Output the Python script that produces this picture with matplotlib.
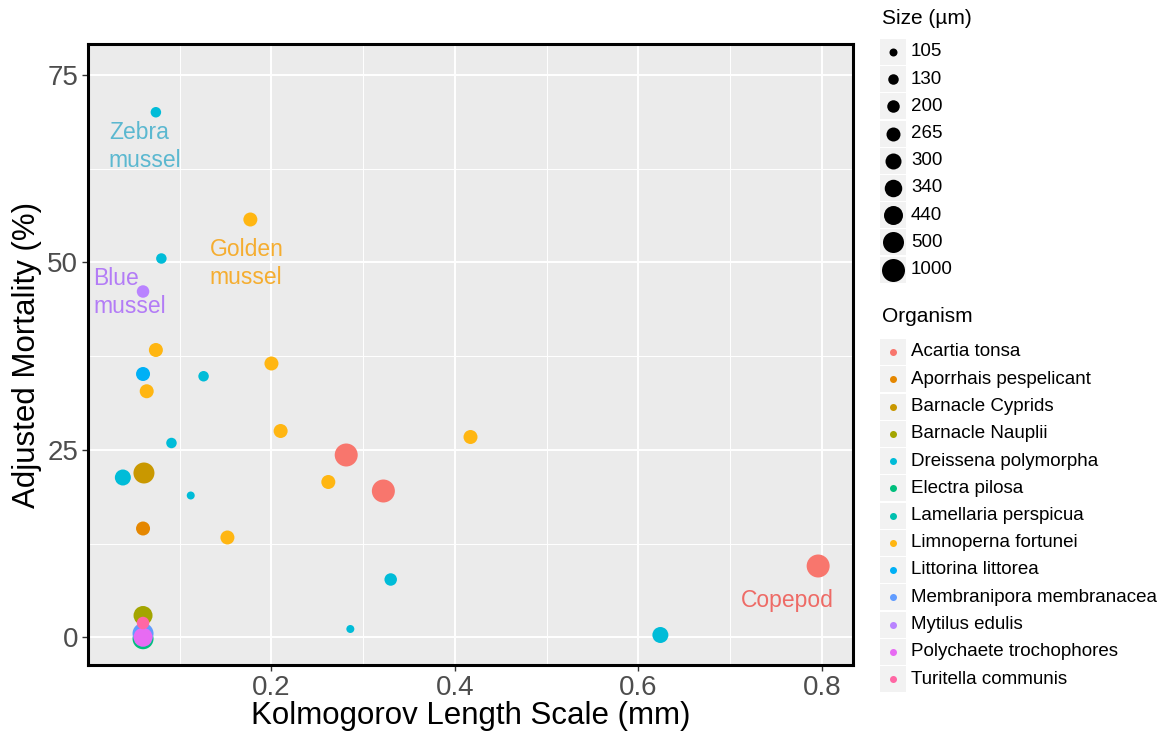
import matplotlib
matplotlib.use("Agg")
import matplotlib.pyplot as plt
from matplotlib.patches import Rectangle

plt.rcParams['font.family'] = ['Liberation Sans', 'DejaVu Sans']

# organism levels and their colours
organisms = ["Acartia tonsa", "Aporrhais pespelicant", "Barnacle Cyprids", "Barnacle Nauplii",
             "Dreissena polymorpha", "Electra pilosa", "Lamellaria perspicua", "Limnoperna fortunei",
             "Littorina littorea", "Membranipora membranacea", "Mytilus edulis",
             "Polychaete trochophores", "Turitella communis"]
org_colors = ["#F8766D", "#E58700", "#C99800", "#A3A500", "#00BCD8", "#00BF7D", "#00C0AF",
              "#FFB612", "#00B0F6", "#619CFF", "#B983FF", "#E76BF3", "#FF67A4"]

# size levels (um) and marker diameters in px
size_levels = [105, 130, 200, 265, 300, 340, 440, 500, 1000]
size_px = [8, 10.5, 12.5, 14, 16, 17.5, 19, 21, 23]

# observations
kol = [0.074, 0.080, 0.177, 0.060, 0.074, 0.060, 0.064, 0.126, 0.200, 0.210, 0.091, 0.417,
       0.2815, 0.322, 0.262, 0.038, 0.061, 0.112, 0.152, 0.060, 0.796, 0.330, 0.286, 0.624,
       0.060, 0.060, 0.060, 0.060, 0.060, 0.060]
mort = [70.0, 50.5, 55.7, 46.1, 38.3, 35.1, 32.8, 34.8, 36.5, 27.5, 25.9, 26.7,
        24.3, 19.5, 20.7, 21.3, 21.9, 18.9, 13.3, 14.5, 9.5, 7.7, 1.1, 0.3,
        2.9, -0.2, 0.0, 0.5, 0.0, 1.9]
org = ["Dreissena polymorpha", "Dreissena polymorpha", "Limnoperna fortunei", "Mytilus edulis",
       "Limnoperna fortunei", "Littorina littorea", "Limnoperna fortunei", "Dreissena polymorpha",
       "Limnoperna fortunei", "Limnoperna fortunei", "Dreissena polymorpha", "Limnoperna fortunei",
       "Acartia tonsa", "Acartia tonsa", "Limnoperna fortunei", "Dreissena polymorpha",
       "Barnacle Cyprids", "Dreissena polymorpha", "Limnoperna fortunei", "Aporrhais pespelicant",
       "Acartia tonsa", "Dreissena polymorpha", "Dreissena polymorpha", "Dreissena polymorpha",
       "Barnacle Nauplii", "Electra pilosa", "Lamellaria perspicua", "Membranipora membranacea",
       "Polychaete trochophores", "Turitella communis"]
size = [130, 130, 265, 200, 265, 265, 265, 130, 265, 265, 130, 265,
        1000, 1000, 265, 300, 500, 105, 265, 265, 1000, 200, 105, 300,
        440, 500, 440, 500, 440, 200]

# text labels on the panel
lab_text = ["Zebra\nmussel", "Golden\nmussel", "Blue\nmussel", "Copepod"]
lab_x = [0.0228, 0.1326, 0.0054, 0.762]
lab_y = [65.4, 49.8, 46.0, 4.9]
lab_ha = ["left", "left", "left", "center"]
lab_col = ["#5BB8D0", "#F5AD30", "#B37CF6", "#EE6B66"]

W, H = 1166, 731
fig = plt.figure(figsize=(W / 100, H / 100), dpi=100)
ax = fig.add_axes([88 / W, 1 - 665 / H, (853 - 88) / W, (665 - 44) / H])


def area(d):
    # diameter in px -> scatter area in pt^2
    return (d * 0.72) ** 2


ax.set_facecolor("#EBEBEB")
ax.scatter(kol, mort,
           s=[area(size_px[size_levels.index(v)]) for v in size],
           c=[org_colors[organisms.index(o)] for o in org],
           linewidths=0, zorder=3)

for t, x, y, ha, col in zip(lab_text, lab_x, lab_y, lab_ha, lab_col):
    ax.text(x, y, t, ha=ha, va="center", color=col, fontsize=16.5, linespacing=1.3, zorder=4)

ax.set_xlim(0.0, 0.834)
ax.set_ylim(-3.7, 79.1)
ax.set_xticks([0.2, 0.4, 0.6, 0.8])
ax.set_xticklabels(["0.2", "0.4", "0.6", "0.8"])
ax.set_yticks([0, 25, 50, 75])
ax.set_xticks([0.1, 0.3, 0.5, 0.7], minor=True)
ax.set_yticks([12.5, 37.5, 62.5], minor=True)
ax.grid(True, which="major", color="white", linewidth=1.4, zorder=0)
ax.grid(True, which="minor", color="white", linewidth=0.7, zorder=0)
ax.set_axisbelow(True)
ax.tick_params(which="major", length=4, width=1, color="#333333", labelsize=20,
               labelcolor="#4D4D4D", pad=3)
ax.tick_params(which="minor", length=0)
for sp in ax.spines.values():
    sp.set_linewidth(2.2)
    sp.set_color("black")
ax.set_xlabel("Kolmogorov Length Scale (mm)", fontsize=22.5, labelpad=0)
ax.set_ylabel("Adjusted Mortality (%)", fontsize=22.5, labelpad=4)

# legends drawn in pixel coordinates
lg = fig.add_axes([0, 0, 1, 1], facecolor="none")
lg.set_xlim(0, W)
lg.set_ylim(H, 0)
lg.axis("off")

lg.text(882, 19, "Size (\u00b5m)", fontsize=15, va="center", ha="left")
for i, (lev, d) in enumerate(zip(size_levels, size_px)):
    yc = 52 + i * 27.2
    lg.add_patch(Rectangle((880, yc - 13), 26, 26, facecolor="#F2F2F2", edgecolor="none"))
    lg.scatter([893], [yc], s=area(d), c="black", linewidths=0)
    lg.text(911, yc, str(lev), fontsize=13.5, va="center", ha="left")

lg.text(882, 317, "Organism", fontsize=15, va="center", ha="left")
for i, (name, col) in enumerate(zip(organisms, org_colors)):
    yc = 352 + i * 27.25
    lg.add_patch(Rectangle((880, yc - 13), 26, 26, facecolor="#F2F2F2", edgecolor="none"))
    lg.scatter([893], [yc], s=area(7), c=col, linewidths=0)
    lg.text(911, yc, name, fontsize=13.5, va="center", ha="left")

fig.savefig("out.png", dpi=100)
